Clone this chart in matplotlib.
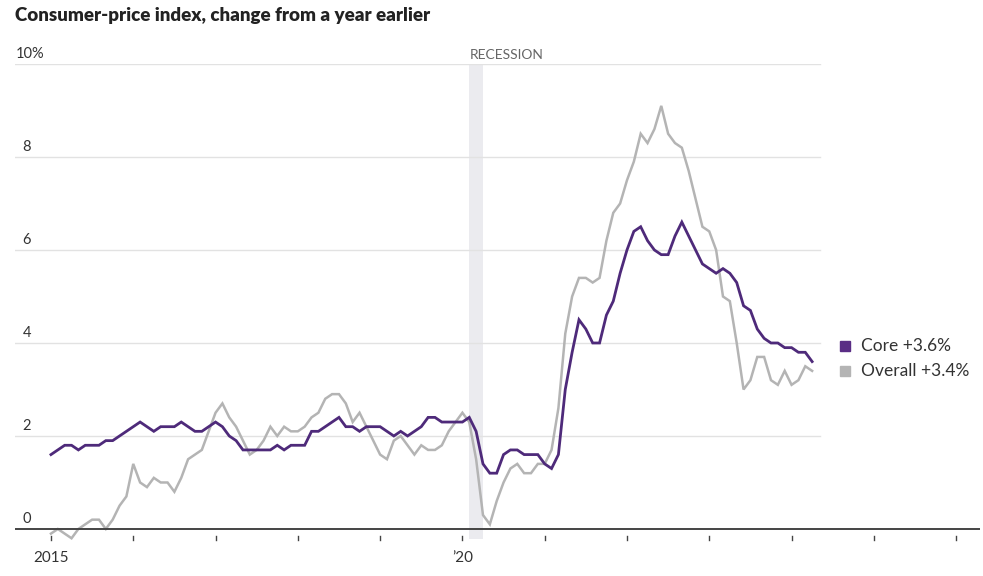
import numpy as np
import matplotlib
matplotlib.use("Agg")
import matplotlib.pyplot as plt
from matplotlib.patches import Rectangle

# Monthly, Jan 2015 - Apr 2024, % change from a year earlier
core = [
    1.6, 1.7, 1.8, 1.8, 1.7, 1.8, 1.8, 1.8, 1.9, 1.9, 2.0, 2.1,   # 2015
    2.2, 2.3, 2.2, 2.1, 2.2, 2.2, 2.2, 2.3, 2.2, 2.1, 2.1, 2.2,   # 2016
    2.3, 2.2, 2.0, 1.9, 1.7, 1.7, 1.7, 1.7, 1.7, 1.8, 1.7, 1.8,   # 2017
    1.8, 1.8, 2.1, 2.1, 2.2, 2.3, 2.4, 2.2, 2.2, 2.1, 2.2, 2.2,   # 2018
    2.2, 2.1, 2.0, 2.1, 2.0, 2.1, 2.2, 2.4, 2.4, 2.3, 2.3, 2.3,   # 2019
    2.3, 2.4, 2.1, 1.4, 1.2, 1.2, 1.6, 1.7, 1.7, 1.6, 1.6, 1.6,   # 2020
    1.4, 1.3, 1.6, 3.0, 3.8, 4.5, 4.3, 4.0, 4.0, 4.6, 4.9, 5.5,   # 2021
    6.0, 6.4, 6.5, 6.2, 6.0, 5.9, 5.9, 6.3, 6.6, 6.3, 6.0, 5.7,   # 2022
    5.6, 5.5, 5.6, 5.5, 5.3, 4.8, 4.7, 4.3, 4.1, 4.0, 4.0, 3.9,   # 2023
    3.9, 3.8, 3.8, 3.6,                                           # 2024
]
overall = [
    -0.1, 0.0, -0.1, -0.2, 0.0, 0.1, 0.2, 0.2, 0.0, 0.2, 0.5, 0.7,  # 2015
    1.4, 1.0, 0.9, 1.1, 1.0, 1.0, 0.8, 1.1, 1.5, 1.6, 1.7, 2.1,     # 2016
    2.5, 2.7, 2.4, 2.2, 1.9, 1.6, 1.7, 1.9, 2.2, 2.0, 2.2, 2.1,     # 2017
    2.1, 2.2, 2.4, 2.5, 2.8, 2.9, 2.9, 2.7, 2.3, 2.5, 2.2, 1.9,     # 2018
    1.6, 1.5, 1.9, 2.0, 1.8, 1.6, 1.8, 1.7, 1.7, 1.8, 2.1, 2.3,     # 2019
    2.5, 2.3, 1.5, 0.3, 0.1, 0.6, 1.0, 1.3, 1.4, 1.2, 1.2, 1.4,     # 2020
    1.4, 1.7, 2.6, 4.2, 5.0, 5.4, 5.4, 5.3, 5.4, 6.2, 6.8, 7.0,     # 2021
    7.5, 7.9, 8.5, 8.3, 8.6, 9.1, 8.5, 8.3, 8.2, 7.7, 7.1, 6.5,     # 2022
    6.4, 6.0, 5.0, 4.9, 4.0, 3.0, 3.2, 3.7, 3.7, 3.2, 3.1, 3.4,     # 2023
    3.1, 3.2, 3.5, 3.4,                                             # 2024
]
years = 2015 + np.arange(len(core)) / 12.0
recession = (2020 + 1 / 12, 2020 + 3 / 12)
y_ticks = [0, 2, 4, 6, 8, 10]
x_ticks = list(range(2015, 2027))
x_labels = {2015: "2015", 2020: "\u201920"}

PURPLE = "#4e2a7a"
GRAY = "#b4b4b4"
TEXT = "#333333"

plt.rcParams["font.family"] = ["Lato", "DejaVu Sans"]

fig = plt.figure(figsize=(9.83, 5.76), dpi=100)
ax = fig.add_axes([0.01526, 0.06146, 0.98169, 0.8274])
ax.set_xlim(2014.563, 2026.29)
ax.set_ylim(-0.25, 10.0)
ax.axis("off")

# gridlines
for v in y_ticks[1:]:
    ax.plot([2014.563, 2024.34], [v, v], color="#e2e2e2", lw=1.0, zorder=1)
ax.axhline(0, color="#444444", lw=1.4, zorder=4)

# recession band
ax.add_patch(Rectangle((recession[0], -0.22), recession[1] - recession[0], 10.22,
                       color="#ebebef", lw=0, zorder=0))
ax.text(recession[0], 10.07, "RECESSION", fontsize=10, color="#666666",
        ha="left", va="bottom")

ax.plot(years, overall, color=GRAY, lw=1.8, zorder=2, solid_joinstyle="miter")
ax.plot(years, core, color=PURPLE, lw=2.0, zorder=3, solid_joinstyle="miter")

# y labels
for v in y_ticks:
    label = f"{v}%" if v == 10 else str(v)
    ha = "left" if v == 10 else "right"
    dx = 1 if v == 10 else 16
    ax.annotate(label, xy=(0, v), xycoords=("axes fraction", "data"),
                xytext=(dx, 3), textcoords="offset pixels",
                ha=ha, va="bottom", fontsize=10.5, color=TEXT)

# x ticks
for yr in x_ticks:
    ax.plot([yr, yr], [-0.16, -0.24], color="#444444", lw=1.0,
            clip_on=False, zorder=4)
    if yr in x_labels:
        ax.annotate(x_labels[yr], xy=(yr, -0.25), xycoords="data",
                    xytext=(0, -10), textcoords="offset pixels",
                    ha="center", va="top", fontsize=11, color=TEXT,
                    annotation_clip=False)

# legend
fig.patches.append(Rectangle((840 / 983, 1 - 351 / 576), 10 / 983, 10 / 576,
                             transform=fig.transFigure, color="#5a2d85"))
fig.patches.append(Rectangle((840 / 983, 1 - 376 / 576), 10 / 983, 10 / 576,
                             transform=fig.transFigure, color=GRAY))
fig.text(861 / 983, 1 - 346 / 576, "Core +3.6%", fontsize=12.5, color=TEXT,
         ha="left", va="center")
fig.text(861 / 983, 1 - 371 / 576, "Overall +3.4%", fontsize=12.5, color=TEXT,
         ha="left", va="center")

fig.text(15 / 983, 1 - 16 / 576, "Consumer-price index, change from a year earlier",
         fontsize=13.5, fontweight="heavy", color="#222222", ha="left", va="center")

fig.savefig("out.png", dpi=100, facecolor="white")
